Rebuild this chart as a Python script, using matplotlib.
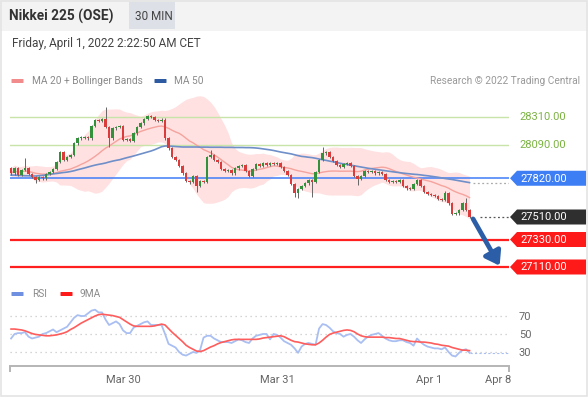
import matplotlib
matplotlib.use("Agg")
import matplotlib.pyplot as plt
import numpy as np
import pandas as pd
from matplotlib.patches import Rectangle, Polygon, FancyBboxPatch

plt.rcParams['font.family'] = ['Roboto', 'DejaVu Sans']

# 30 min candles, Nikkei 225 (OSE)
closes = [27860, 27900, 27845, 27885, 27900, 27855, 27830, 27805, 27830, 27820,
          27855, 27870, 27895, 27950, 28030, 27965, 27990, 28005, 28100, 28140,
          28145, 28150, 28140, 28240, 28285, 28280, 28295, 28230, 28140, 28220,
          28230, 28240, 28125, 28135, 28120, 28180, 28230, 28260, 28295, 28320,
          28310, 28285, 28280, 28290, 28140, 28060, 27990, 27965, 27920, 27860,
          27800, 27790, 27840, 27760, 27800, 27790, 27990, 28005, 27965, 27950,
          27895, 27880, 27885, 27860, 27900, 27920, 27925, 27880, 27840, 27895,
          27935, 27920, 27940, 27925, 27940, 27935, 27940, 27910, 27880, 27845,
          27775, 27700, 27735, 27760, 27780, 27805, 27790, 27870, 27965, 28020,
          28030, 27990, 27960, 27925, 27910, 27935, 27940, 27920, 27840, 27815,
          27840, 27880, 27870, 27880, 27860, 27870, 27855, 27805, 27790, 27800,
          27790, 27805, 27760, 27740, 27735, 27775, 27805, 27760, 27710, 27695,
          27685, 27680, 27655, 27650, 27700, 27620, 27535, 27540, 27565, 27620,
          27565, 27510]
first_open = 27900
wick_high = {4: 27980, 27: 28390, 44: 28305, 57: 28045, 89: 28070, 124: 27720, 130: 27660}
wick_low = {7: 27785, 28: 28070, 51: 27775, 53: 27710, 81: 27670, 82: 27660, 86: 27670, 99: 27765}

ma50 = [27845, 27845, 27843, 27842, 27840, 27840, 27838, 27838, 27840, 27843,
        27846, 27850, 27855, 27858, 27862, 27866, 27869, 27874, 27880, 27888,
        27895, 27902, 27910, 27918, 27925, 27931, 27936, 27942, 27950, 27957,
        27963, 27968, 27976, 27984, 27991, 27998, 28006, 28014, 28022, 28030,
        28038, 28048, 28060, 28072, 28078, 28078, 28076, 28074, 28072, 28070,
        28070, 28070, 28070, 28070, 28069, 28069, 28069, 28068, 28068, 28068,
        28068, 28067, 28067, 28067, 28066, 28066, 28066, 28065, 28065, 28064,
        28062, 28059, 28055, 28051, 28047, 28042, 28036, 28030, 28025, 28020,
        28015, 28008, 28001, 27995, 27992, 27988, 27985, 27980, 27974, 27968,
        27963, 27957, 27952, 27946, 27940, 27935, 27930, 27925, 27920, 27915,
        27910, 27905, 27900, 27896, 27892, 27888, 27884, 27880, 27876, 27872,
        27868, 27865, 27861, 27858, 27855, 27852, 27850, 27847, 27843, 27840,
        27836, 27832, 27828, 27823, 27818, 27814, 27810, 27805, 27800, 27795,
        27790, 27785]

rsi = [45, 50, 51, 51, 52, 47, 45, 46, 47, 50, 51, 53, 55, 52, 54, 56, 58, 63, 68, 71,
       70, 70, 73, 76, 77, 74, 74, 66, 60, 62, 64, 61, 54, 51, 51, 57, 59, 61, 63, 64,
       60, 60, 60, 60, 50, 39, 37, 35, 30, 27, 26, 28, 30, 29, 32, 46, 48, 48, 45, 43,
       41, 41, 41, 40, 42, 44, 43, 41, 40, 45, 48, 49, 50, 50, 44, 50, 49, 46, 42, 40,
       38, 34, 29, 36, 39, 40, 39, 38, 56, 61, 60, 57, 53, 51, 50, 47, 49, 50, 47, 43,
       40, 44, 47, 49, 50, 51, 48, 45, 43, 42, 42, 43, 43, 41, 40, 37, 45, 41, 38, 36,
       35, 34, 34, 33, 35, 30, 26, 25, 29, 32, 33, 29]
rsi_ma = [55.5, 55.5, 55, 54.5, 53.5, 52, 50.5, 49.5, 49, 48.5, 48, 48, 48.5, 49, 50, 51,
          52.5, 55, 57, 59.5, 62, 64, 66, 68, 70, 71.5, 72, 71.5, 71, 70.5, 69.5, 68.5,
          66, 63.5, 61, 59, 58.5, 58.5, 58.5, 58.5, 58.5, 59, 60, 61, 60, 56, 52, 48.5,
          45, 41.5, 37.5, 35, 33, 31, 30.5, 31.5, 33.5, 35.5, 37, 39, 40.5, 41.5, 42.5,
          43.5, 44, 44, 44, 44, 44, 44, 44, 44.5, 45.5, 46, 46.5, 47, 47.5, 48, 47, 45,
          43, 41.5, 41, 40, 39, 38.5, 38, 38, 40, 43, 46.5, 49.5, 51, 52, 53, 54, 54.5,
          54, 52.5, 50, 48, 47, 46.5, 46.5, 46.5, 46.5, 46.5, 46, 46, 45.5, 45, 45, 44,
          43, 42, 41.5, 41.5, 41, 41, 40.5, 40, 39, 38.5, 37.5, 37, 36.5, 35, 34, 33, 32,
          32, 31.5]

resistances = [28310, 28090]
pivot = 27820
last_price = 27510
supports = [27330, 27110]
target = 27110

tick_pos = [32, 76, 119.4, 139.1]
tick_labels = ['Mar 30', 'Mar 31', 'Apr 1', 'Apr 8']
rsi_levels = [30, 50, 70]

GREEN = '#33913b'
RED = '#db3b3b'

n = len(closes)
idx = np.arange(n)
opens = [first_open] + closes[:-1]
tops = [max(o, c) for o, c in zip(opens, closes)]
bots = [min(o, c) for o, c in zip(opens, closes)]
highs = [wick_high.get(i, t + 10) for i, t in enumerate(tops)]
lows = [wick_low.get(i, b - 10) for i, b in enumerate(bots)]

# MA 20 + Bollinger bands
s = pd.Series(closes, dtype=float)
ma20 = s.rolling(20, min_periods=1).mean()
sd20 = s.rolling(20, min_periods=3).std(ddof=0).bfill()
upper = ma20 + 2 * sd20
lower = ma20 - 2 * sd20

W, H = 588, 397
fig = plt.figure(figsize=(W / 100, H / 100), dpi=100)

# background / header layer in pixel coordinates
bg = fig.add_axes([0, 0, 1, 1], zorder=0)
bg.set_xlim(0, W)
bg.set_ylim(H, 0)
bg.axis('off')
bg.add_patch(Rectangle((0, 0), W, 31, color='#f3f3f3', lw=0))
bg.add_patch(Rectangle((129, 2), 46, 27, color='#dde0e6', lw=0))
bg.add_patch(Rectangle((0.5, 0.5), W - 1.5, H - 1.5, fill=False, ec='#e4e4e4', lw=1.2))
bg.text(9, 16, 'Nikkei 225 (OSE)', fontsize=9.8, fontweight='bold', color='#333333', va='center')
bg.text(135, 16, '30 MIN', fontsize=8.5, color='#444444', va='center')
bg.text(12, 44, 'Friday, April 1, 2022 2:22:50 AM CET', fontsize=8.5, color='#444444', va='center')

bg.add_patch(FancyBboxPatch((12, 79.5), 11, 3, boxstyle='round,pad=0.5', color='#f28b8b', lw=0))
bg.text(32, 81, 'MA 20 + Bollinger Bands', fontsize=7.3, color='#8a8a8a', va='center')
bg.add_patch(FancyBboxPatch((155, 79.5), 11, 3, boxstyle='round,pad=0.5', color='#2d5aa0', lw=0))
bg.text(174, 81, 'MA 50', fontsize=7.3, color='#8a8a8a', va='center')
bg.text(580, 81, 'Research \u00a9 2022 Trading Central', fontsize=7.3, color='#999999',
        va='center', ha='right')

bg.add_patch(FancyBboxPatch((12, 292.5), 11, 3, boxstyle='round,pad=0.5', color='#6f8fe0', lw=0))
bg.text(32, 294, 'RSI', fontsize=7.3, color='#8a8a8a', va='center')
bg.add_patch(FancyBboxPatch((61, 292.5), 11, 3, boxstyle='round,pad=0.5', color='#ff1a1a', lw=0))
bg.text(80, 294, '9MA', fontsize=7.3, color='#8a8a8a', va='center')

# price panel
x0, x1 = 10, 509
ax = fig.add_axes([x0 / W, 1 - 280 / H, (x1 - x0) / W, 190 / H], zorder=1)
ax.set_facecolor('none')
xmax = (x1 - x0) / 3.5 - 0.3
ax.set_xlim(-0.3, xmax)
ax.set_ylim(27006, 28526)
ax.axis('off')

ax.fill_between(idx, lower, upper, color='#ffe1e1', lw=0, zorder=1)
ax.plot(idx, ma20, color='#f5a39d', lw=1.0, zorder=2)
ax.plot(idx, ma50, color='#6f8fc9', lw=1.2, zorder=2)

for lv in resistances:
    ax.axhline(lv, color='#c8e4a8', lw=1.0, zorder=1.5)
ax.axhline(pivot, color='#4f86f7', lw=1.2, zorder=1.5)
for lv in supports:
    ax.axhline(lv, color='#ff1f1f', lw=1.6, zorder=1.5)

ax.vlines(idx, lows, highs, color='#666666', lw=0.7, zorder=3)
cols = [GREEN if c >= o else RED for o, c in zip(opens, closes)]
heights = [max(t - b, 8) for t, b in zip(tops, bots)]
ax.bar(idx, heights, bottom=bots, width=0.72, color=cols, lw=0, zorder=4)

ax.plot([idx[-1] + 1, xmax], [ma50[-1]] * 2, ls=(0, (1.5, 2)), color='#aaaaaa', lw=0.9)
ax.plot([idx[-1] + 3, xmax], [last_price] * 2, ls=(0, (1.5, 2)), color='#555555', lw=0.9)

ax.annotate('', xy=(idx[-1] + 8.6, target + 10), xytext=(idx[-1] + 1, last_price - 15),
            arrowprops=dict(arrowstyle='-|>,head_length=0.8,head_width=0.55',
                            color='#2b5ea7', lw=3.4, shrinkA=0, shrinkB=0), zorder=5)


def level_y(v):
    return H - ax.transData.transform((0, v))[1]


for lv in resistances:
    bg.text(519, level_y(lv), f'{lv:.2f}', fontsize=8, color='#7cb342', va='center')


def tag(v, fc):
    y = level_y(v)
    bg.add_patch(Polygon([(510, y), (517, y - 7.5), (586, y - 7.5), (586, y + 7.5), (517, y + 7.5)],
                         closed=True, color=fc, lw=0))
    bg.text(520, y + 0.5, f'{v:.2f}', fontsize=8, color='white', va='center')


tag(pivot, '#3d7ef5')
tag(last_price, '#2f2f2f')
for lv in supports:
    tag(lv, '#ff1a1a')

# RSI panel
ax2 = fig.add_axes([x0 / W, 1 - 366 / H, (x1 - x0) / W, 66 / H], zorder=1)
ax2.set_facecolor('none')
ax2.set_xlim(-0.3, xmax)
ax2.set_ylim(14.4, 87.8)
for lv in rsi_levels:
    ax2.axhline(lv, color='#c8c8c8', lw=0.9, ls=(0, (1, 3)))
ax2.plot(idx, rsi, color='#a9bff2', lw=1.3)
ax2.plot(idx, rsi_ma, color='#ff5c5c', lw=1.2)
ax2.plot([idx[-1], xmax], [rsi[-1]] * 2, color='#a9bff2', lw=0.8, ls=(0, (2, 2)))

for sp in ['top', 'left', 'right']:
    ax2.spines[sp].set_visible(False)
ax2.spines['bottom'].set_color('#b5b5b5')
ax2.spines['bottom'].set_linewidth(1.4)
ax2.set_xticks(tick_pos)
ax2.set_xticklabels(tick_labels)
ax2.set_xticks([-0.3, xmax], minor=True)
ax2.tick_params(axis='x', which='major', length=0, pad=6.5, labelsize=8, labelcolor='#666666')
ax2.tick_params(axis='x', which='minor', length=4, width=1.4, color='#b5b5b5', direction='out')
ax2.yaxis.tick_right()
ax2.set_yticks(rsi_levels)
ax2.tick_params(axis='y', length=0, pad=7, labelsize=8, labelcolor='#666666')

fig.savefig('out.png', dpi=100)
